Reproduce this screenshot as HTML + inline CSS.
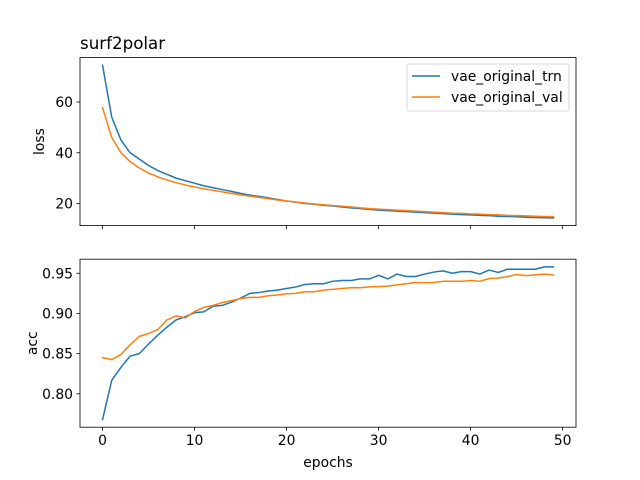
<!DOCTYPE html>
<html><head><meta charset="utf-8"><style>
html,body{margin:0;padding:0;background:#fff;}
svg{display:block;font-family:"DejaVu Sans","Liberation Sans",sans-serif;}
</style></head><body>
<svg id="c" width="640" height="480" viewBox="0 0 640 480"></svg>
<script>
const epochs = Array.from({length:50},(_,i)=>i);
const lossTrn = [74.5,54,45,40,37.5,35,33,31.5,30,29,28,27,26.2,25.5,24.8,24,23.3,22.8,22.2,21.6,21,20.5,20,19.7,19.3,19,18.6,18.3,18,17.7,17.4,17.2,17,16.8,16.6,16.4,16.2,16,15.8,15.6,15.5,15.3,15.2,15,14.9,14.8,14.6,14.5,14.4,14.3];
const lossVal = [57.8,46,40,36.5,34,32,30.5,29.3,28.2,27.3,26.5,25.8,25.2,24.6,24,23.4,22.9,22.4,21.9,21.4,21,20.6,20.2,19.8,19.5,19.2,18.9,18.6,18.3,18.0,17.8,17.6,17.4,17.2,17,16.8,16.6,16.4,16.2,16.1,15.9,15.8,15.6,15.5,15.3,15.2,15.1,15,14.9,14.8];
const accTrn = [0.768,0.817,0.833,0.847,0.850,0.862,0.873,0.883,0.892,0.896,0.901,0.902,0.909,0.910,0.914,0.919,0.925,0.926,0.928,0.929,0.931,0.933,0.936,0.937,0.937,0.940,0.941,0.941,0.943,0.943,0.9475,0.943,0.949,0.946,0.946,0.949,0.9515,0.953,0.950,0.952,0.952,0.949,0.954,0.951,0.955,0.955,0.955,0.955,0.958,0.958];
const accVal = [0.845,0.8425,0.849,0.861,0.8715,0.875,0.880,0.892,0.897,0.8945,0.9025,0.9075,0.910,0.9135,0.916,0.9185,0.920,0.920,0.922,0.923,0.9245,0.925,0.927,0.927,0.929,0.930,0.931,0.932,0.932,0.933,0.9335,0.934,0.9355,0.937,0.9385,0.938,0.9385,0.940,0.940,0.940,0.941,0.940,0.9435,0.944,0.946,0.9485,0.947,0.948,0.949,0.948];
const xTicks = [0,10,20,30,40,50];
const lossTicks = [20,40,60];
const accTicks = [0.80,0.85,0.90,0.95];
const seriesNames = ["vae_original_trn","vae_original_val"];

const NS="http://www.w3.org/2000/svg";
const svg=document.getElementById('c');
const FS=13.9;
function el(tag,attrs,parent){const e=document.createElementNS(NS,tag);for(const k in attrs)e.setAttribute(k,attrs[k]);(parent||svg).appendChild(e);return e;}
const L=80,R=576;
function ext(arrs){let mn=Infinity,mx=-Infinity;arrs.forEach(a=>a.forEach(v=>{mn=Math.min(mn,v);mx=Math.max(mx,v);}));const m=(mx-mn)*0.05;return [mn-m,mx+m];}
const xmin=-0.05*49, xmax=49+0.05*49;
const X=v=>L+(v-xmin)/(xmax-xmin)*(R-L);

function panel(top,bot,ys,ticks,fmt,ylabel,name,showX,ylx){
  const [ymin,ymax]=ext(ys);
  const Y=v=>bot-(v-ymin)/(ymax-ymin)*(bot-top);
  const g=el('g',{});
  
  
  const colors=['#1f77b4','#ff7f0e'];
  ys.forEach((arr,si)=>{
    const p=el('polyline',{points:arr.map((v,i)=>X(epochs[i]).toFixed(2)+','+Y(v).toFixed(2)).join(' '),fill:'none',stroke:colors[si],'stroke-width':1.5,'stroke-linejoin':'round','stroke-linecap':'square'},g);
    
    
  });
  const fr=el('rect',{x:L,y:top,width:R-L,height:bot-top,fill:'none',stroke:'#000','stroke-width':0.8},g);
  
  
  ticks.forEach(t=>{
    const y=Y(t);
    el('line',{x1:L-3.5,x2:L,y1:y,y2:y,stroke:'#000','stroke-width':0.8},g);
    const tx=el('text',{x:L-7,y:y+5,'font-size':FS,'text-anchor':'end'},g);
    tx.textContent=fmt(t);
    
    
  });
  xTicks.forEach(t=>{
    const x=X(t);
    el('line',{x1:x,x2:x,y1:bot,y2:bot+3.5,stroke:'#000','stroke-width':0.8},g);
    if(showX){
      const tx=el('text',{x:x,y:bot+18,'font-size':FS,'text-anchor':'middle'},g);
      tx.textContent=t;
      
      
    }
  });
  const yl=el('text',{x:0,y:0,'font-size':FS,'text-anchor':'middle',transform:`translate(${ylx},${(top+bot)/2}) rotate(-90)`},g);
  yl.textContent=ylabel;
  
  
}
panel(57.6,225.6,[lossTrn,lossVal],lossTicks,v=>v,'loss','loss',false,44);
panel(259.2,427.2,[accTrn,accVal],accTicks,v=>v.toFixed(2),'acc','acc',true,37);

const title=el('text',{x:80,y:49,'font-size':16.7}); title.textContent='surf2polar';


const xl=el('text',{x:328,y:467,'font-size':FS,'text-anchor':'middle'}); xl.textContent='epochs';



const lg=el('g',{});


el('rect',{x:407,y:64,width:162,height:47,rx:2,fill:'#fff','fill-opacity':0.8,stroke:'#ccc','stroke-width':0.8},lg);
['#1f77b4','#ff7f0e'].forEach((c,i)=>{
  const y=76+i*21;
  el('line',{x1:412,x2:440,y1:y,y2:y,stroke:c,'stroke-width':1.5},lg);
  const t=el('text',{x:451,y:y+5,'font-size':FS},lg);
  t.textContent=seriesNames[i];
  
  
});
</script>
</body></html>
